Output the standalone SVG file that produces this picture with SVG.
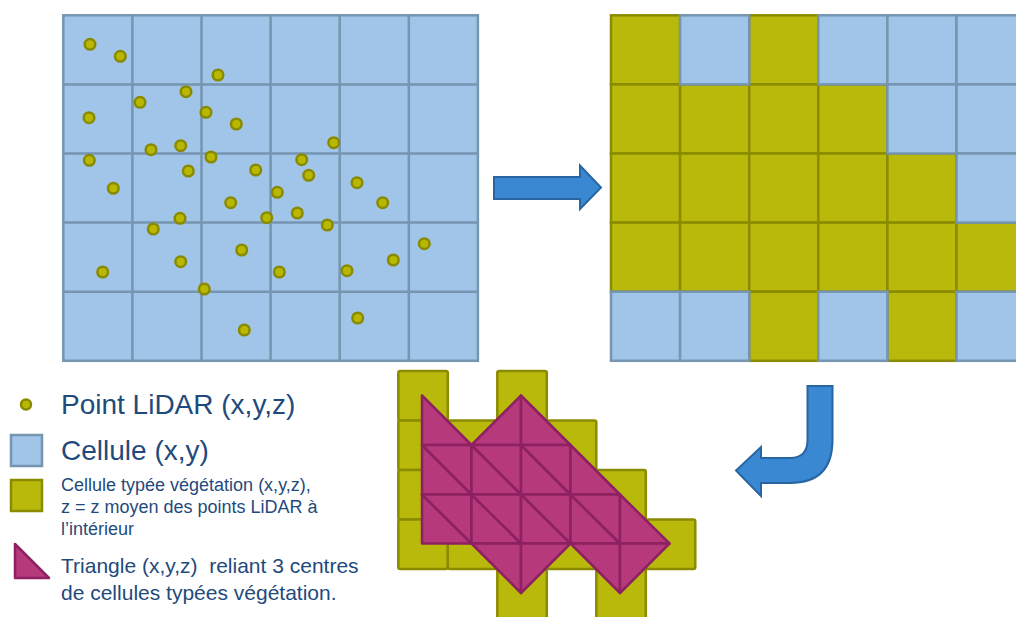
<svg xmlns="http://www.w3.org/2000/svg" width="1016" height="617" viewBox="0 0 1016 617">
<style>
.cb{fill:#a0c5e8;stroke:#7595b0;stroke-width:2.5}
.cg{fill:#b9b90c;stroke:#8b8b00;stroke-width:2.5}
.gl{stroke:#7595b0;stroke-width:2.5;fill:none}
.pt{fill:#b8b800;stroke:#8a8a00;stroke-width:2.5}
.tri{fill:#b5397b;stroke:#8d2161;stroke-width:2.5;stroke-linejoin:round}
.arr{fill:#3a88d1;stroke:#2866a3;stroke-width:2;stroke-linejoin:miter}
.t{font-family:"Liberation Sans",Arial,sans-serif;fill:#1f4a7c;white-space:pre}
</style>
<defs>
<circle id="dot" r="5.3" class="pt"/>
</defs>

<g id="grid-points">
<rect x="63.3" y="15.3" width="414.6" height="345.5" class="cb"/>
<path class="gl" d="M132.4 15.3V360.8M201.5 15.3V360.8M270.6 15.3V360.8M339.7 15.3V360.8M408.8 15.3V360.8M63.3 84.4H477.9M63.3 153.5H477.9M63.3 222.6H477.9M63.3 291.7H477.9"/>
<g>
<use href="#dot" x="90" y="44.3"/><use href="#dot" x="120.3" y="56.3"/><use href="#dot" x="218" y="75"/>
<use href="#dot" x="186" y="91.7"/><use href="#dot" x="140" y="102.3"/><use href="#dot" x="206" y="112.3"/>
<use href="#dot" x="89" y="117.7"/><use href="#dot" x="236.3" y="124"/><use href="#dot" x="333.7" y="142.7"/>
<use href="#dot" x="151" y="149.7"/><use href="#dot" x="180.7" y="145.7"/><use href="#dot" x="89.3" y="160.3"/>
<use href="#dot" x="211" y="157"/><use href="#dot" x="188.3" y="171"/><use href="#dot" x="255.7" y="170"/>
<use href="#dot" x="301.7" y="159.7"/><use href="#dot" x="308.7" y="175.3"/><use href="#dot" x="113.3" y="188.3"/>
<use href="#dot" x="357" y="182.7"/><use href="#dot" x="277.3" y="192.3"/><use href="#dot" x="382.7" y="202.7"/>
<use href="#dot" x="230.7" y="202.7"/><use href="#dot" x="180" y="218.3"/><use href="#dot" x="266.7" y="217.7"/>
<use href="#dot" x="297.3" y="213"/><use href="#dot" x="327.3" y="225"/><use href="#dot" x="153.3" y="229"/>
<use href="#dot" x="424.3" y="243.7"/><use href="#dot" x="241.7" y="250"/><use href="#dot" x="180.7" y="261.7"/>
<use href="#dot" x="102.7" y="272"/><use href="#dot" x="279.3" y="272"/><use href="#dot" x="347" y="270.7"/>
<use href="#dot" x="393.3" y="260"/><use href="#dot" x="204.3" y="289"/><use href="#dot" x="357.7" y="318"/>
<use href="#dot" x="244.3" y="330"/>
</g>
</g>

<g id="grid-classified">
<rect x="611" y="15.3" width="69.1" height="69.1" class="cg"/>
<rect x="749.2" y="15.3" width="69.1" height="69.1" class="cg"/>
<rect x="611" y="84.4" width="69.1" height="69.1" class="cg"/>
<rect x="680.1" y="84.4" width="69.1" height="69.1" class="cg"/>
<rect x="749.2" y="84.4" width="69.1" height="69.1" class="cg"/>
<rect x="818.3" y="84.4" width="69.1" height="69.1" class="cg"/>
<rect x="611" y="153.5" width="69.1" height="69.1" class="cg"/>
<rect x="680.1" y="153.5" width="69.1" height="69.1" class="cg"/>
<rect x="749.2" y="153.5" width="69.1" height="69.1" class="cg"/>
<rect x="818.3" y="153.5" width="69.1" height="69.1" class="cg"/>
<rect x="887.4" y="153.5" width="69.1" height="69.1" class="cg"/>
<rect x="611" y="222.6" width="69.1" height="69.1" class="cg"/>
<rect x="680.1" y="222.6" width="69.1" height="69.1" class="cg"/>
<rect x="749.2" y="222.6" width="69.1" height="69.1" class="cg"/>
<rect x="818.3" y="222.6" width="69.1" height="69.1" class="cg"/>
<rect x="887.4" y="222.6" width="69.1" height="69.1" class="cg"/>
<rect x="956.5" y="222.6" width="69.1" height="69.1" class="cg"/>
<rect x="749.2" y="291.7" width="69.1" height="69.1" class="cg"/>
<rect x="887.4" y="291.7" width="69.1" height="69.1" class="cg"/>
<rect x="680.1" y="15.3" width="69.1" height="69.1" class="cb"/>
<rect x="818.3" y="15.3" width="69.1" height="69.1" class="cb"/>
<rect x="887.4" y="15.3" width="69.1" height="69.1" class="cb"/>
<rect x="956.5" y="15.3" width="69.1" height="69.1" class="cb"/>
<rect x="887.4" y="84.4" width="69.1" height="69.1" class="cb"/>
<rect x="956.5" y="84.4" width="69.1" height="69.1" class="cb"/>
<rect x="956.5" y="153.5" width="69.1" height="69.1" class="cb"/>
<rect x="611" y="291.7" width="69.1" height="69.1" class="cb"/>
<rect x="680.1" y="291.7" width="69.1" height="69.1" class="cb"/>
<rect x="818.3" y="291.7" width="69.1" height="69.1" class="cb"/>
<rect x="956.5" y="291.7" width="69.1" height="69.1" class="cb"/>
</g>

<g id="triangulation">
<g>
<rect x="398.3" y="371" width="49.5" height="49.5" rx="2" class="cg"/>
<rect x="497.3" y="371" width="49.5" height="49.5" rx="2" class="cg"/>
<rect x="398.3" y="420.5" width="49.5" height="49.5" rx="2" class="cg"/>
<rect x="447.8" y="420.5" width="49.5" height="49.5" rx="2" class="cg"/>
<rect x="497.3" y="420.5" width="49.5" height="49.5" rx="2" class="cg"/>
<rect x="546.8" y="420.5" width="49.5" height="49.5" rx="2" class="cg"/>
<rect x="398.3" y="470" width="49.5" height="49.5" rx="2" class="cg"/>
<rect x="447.8" y="470" width="49.5" height="49.5" rx="2" class="cg"/>
<rect x="497.3" y="470" width="49.5" height="49.5" rx="2" class="cg"/>
<rect x="546.8" y="470" width="49.5" height="49.5" rx="2" class="cg"/>
<rect x="596.3" y="470" width="49.5" height="49.5" rx="2" class="cg"/>
<rect x="398.3" y="519.5" width="49.5" height="49.5" rx="2" class="cg"/>
<rect x="447.8" y="519.5" width="49.5" height="49.5" rx="2" class="cg"/>
<rect x="497.3" y="519.5" width="49.5" height="49.5" rx="2" class="cg"/>
<rect x="546.8" y="519.5" width="49.5" height="49.5" rx="2" class="cg"/>
<rect x="596.3" y="519.5" width="49.5" height="49.5" rx="2" class="cg"/>
<rect x="645.8" y="519.5" width="49.5" height="49.5" rx="2" class="cg"/>
<rect x="497.3" y="569" width="49.5" height="49.5" rx="2" class="cg"/>
<rect x="596.3" y="569" width="49.5" height="49.5" rx="2" class="cg"/>
</g>
<g>
<polygon class="tri" points="422,395.5 422,445 471.5,445"/>
<polygon class="tri" points="471.5,445 521,395.5 521,445"/>
<polygon class="tri" points="521,395.5 521,445 570.5,445"/>
<polygon class="tri" points="422,445 471.5,494.5 422,494.5"/>
<polygon class="tri" points="422,445 471.5,445 471.5,494.5"/>
<polygon class="tri" points="471.5,445 521,494.5 471.5,494.5"/>
<polygon class="tri" points="471.5,445 521,445 521,494.5"/>
<polygon class="tri" points="521,445 570.5,494.5 521,494.5"/>
<polygon class="tri" points="521,445 570.5,445 570.5,494.5"/>
<polygon class="tri" points="570.5,445 570.5,494.5 620,494.5"/>
<polygon class="tri" points="422,494.5 471.5,543.5 422,543.5"/>
<polygon class="tri" points="422,494.5 471.5,494.5 471.5,543.5"/>
<polygon class="tri" points="471.5,494.5 521,543.5 471.5,543.5"/>
<polygon class="tri" points="471.5,494.5 521,494.5 521,543.5"/>
<polygon class="tri" points="521,494.5 570.5,543.5 521,543.5"/>
<polygon class="tri" points="521,494.5 570.5,494.5 570.5,543.5"/>
<polygon class="tri" points="570.5,494.5 620,543.5 570.5,543.5"/>
<polygon class="tri" points="570.5,494.5 620,494.5 620,543.5"/>
<polygon class="tri" points="620,494.5 620,543.5 669.5,543.5"/>
<polygon class="tri" points="471.5,543.5 521,543.5 521,593"/>
<polygon class="tri" points="521,543.5 521,593 570.5,543.5"/>
<polygon class="tri" points="570.5,543.5 620,543.5 620,593"/>
<polygon class="tri" points="620,543.5 620,593 669.5,543.5"/>
</g>
</g>

<g id="connectors">
<path class="arr" d="M494 177H580V165.5L601 187.5L580 209V199H494Z"/>
<path class="arr" d="M807.5 386H832.5V440Q832.5 483 790 483H761V496L736 470.5L761 447V458H790Q807.5 458 807.5 440Z"/>
</g>

<g id="legend-point">
<circle cx="26" cy="404.5" r="5" class="pt"/>
<text class="t" x="61" y="413.5" font-size="28">Point LiDAR (x,y,z)</text>
</g>
<g id="legend-cell">
<rect x="11" y="435" width="31" height="31" class="cb"/>
<text class="t" x="61" y="460" font-size="28">Cellule (x,y)</text>
</g>
<g id="legend-veg">
<rect x="11" y="480" width="31" height="31" class="cg"/>
<text class="t" font-size="18"><tspan x="61" y="490.7">Cellule typée végétation (x,y,z),</tspan><tspan x="61" y="512.7">z = z moyen des points LiDAR à</tspan><tspan x="61" y="535">l’intérieur</tspan></text>
</g>
<g id="legend-triangle">
<polygon class="tri" points="15,544 15,578 49,578"/>
<text class="t" font-size="21"><tspan x="61" y="573.3">Triangle (x,y,z)  reliant 3 centres</tspan><tspan x="61" y="600">de cellules typées végétation.</tspan></text>
</g>
</svg>
